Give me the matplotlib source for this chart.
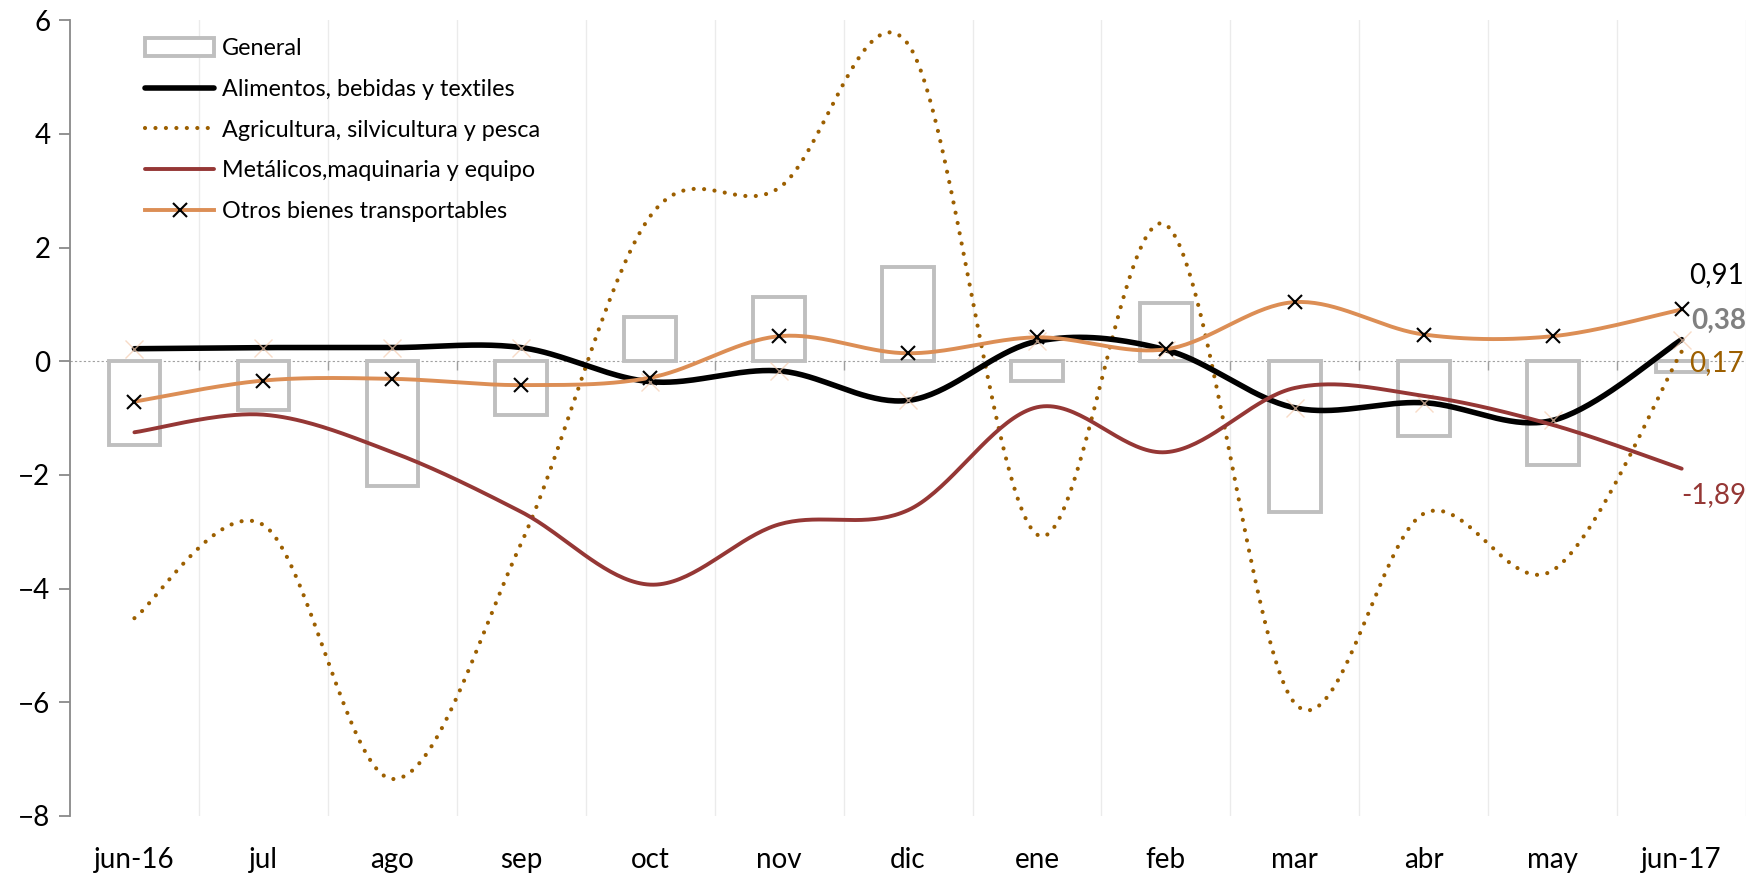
import numpy as np
import matplotlib
matplotlib.use("Agg")
import matplotlib.pyplot as plt
from matplotlib.lines import Line2D
from matplotlib.patches import Patch

plt.rcParams['font.family'] = ['Lato', 'DejaVu Sans']

# ------------------------------------------------------------------
# datos (variacion %)
# ------------------------------------------------------------------
meses = ["jun-16", "jul", "ago", "sep", "oct", "nov", "dic",
         "ene", "feb", "mar", "abr", "may", "jun-17"]
general = [-1.48, -0.85, -2.20, -0.94, 0.78, 1.13, 1.66, -0.34, 1.03, -2.66, -1.31, -1.82, -0.19]
alimentos = [0.22, 0.24, 0.24, 0.24, -0.36, -0.17, -0.69, 0.35, 0.20, -0.82, -0.73, -1.04, 0.38]
agricultura = [-4.52, -2.88, -7.35, -3.20, 2.55, 3.05, 5.58, -3.05, 2.40, -6.02, -2.68, -3.68, 0.17]
metalicos = [-1.25, -0.94, -1.60, -2.65, -3.93, -2.87, -2.62, -0.81, -1.60, -0.47, -0.61, -1.12, -1.89]
otros = [-0.71, -0.34, -0.31, -0.42, -0.29, 0.44, 0.14, 0.42, 0.21, 1.04, 0.47, 0.44, 0.91]

c_gris = "#bfbfbf"
c_agri = "#9c5f00"
c_metal = "#953735"
c_otros = "#dc8e55"


def suavizar(xs, ys, n=40):
    # curva tipo "linea suavizada" de Excel (bezier / catmull-rom)
    pts = np.column_stack([xs, ys]).astype(float)
    P = np.vstack([pts[0], pts, pts[-1]])
    out = []
    t = np.linspace(0, 1, n)[:, None]
    for i in range(1, len(P) - 2):
        p0, p1, p2, p3 = P[i - 1], P[i], P[i + 1], P[i + 2]
        c1 = p1 + (p2 - p0) / 6
        c2 = p2 - (p3 - p1) / 6
        seg = (1 - t)**3 * p1 + 3 * (1 - t)**2 * t * c1 + 3 * (1 - t) * t**2 * c2 + t**3 * p2
        out.append(seg)
    out = np.vstack(out)
    return out[:, 0], out[:, 1]


def main():
    fig = plt.figure(figsize=(17.62, 8.76), dpi=100)
    ax = fig.add_axes([0.0397, 0.0685, 0.991 - 0.0397, 0.977 - 0.0685])

    x = np.arange(len(meses))

    # rejilla vertical y linea del cero
    for b in np.arange(0.5, len(meses), 1.0):
        ax.axvline(b, color="#ebebeb", lw=1, zorder=0)
    ax.axhline(0, color="#a0a0a0", lw=0.8, ls=(0, (2, 2)), zorder=0.5)
    ax.vlines(np.arange(0.5, len(meses) - 1, 1.0), -0.16, 0, color="#a0a0a0", lw=1, zorder=0.5)

    ax.bar(x, general, width=0.4, facecolor="none", edgecolor=c_gris, lw=2.8, zorder=1)

    xs, ys = suavizar(x, agricultura)
    ax.plot(xs, ys, color=c_agri, lw=3, ls=(0, (0.01, 2.5)), dash_capstyle="round", zorder=2)

    xs, ys = suavizar(x, alimentos)
    ax.plot(xs, ys, color="black", lw=4, solid_capstyle="round", zorder=3)
    ax.plot(x, alimentos, ls="none", marker="x", ms=13, mew=1, color="#f6cdb0", alpha=0.7, zorder=3.5)

    xs, ys = suavizar(x, metalicos)
    ax.plot(xs, ys, color=c_metal, lw=2.8, solid_capstyle="round", zorder=4)

    xs, ys = suavizar(x, otros)
    ax.plot(xs, ys, color=c_otros, lw=2.8, solid_capstyle="round", zorder=5)
    ax.plot(x, otros, ls="none", marker="x", ms=10, mew=1.5, color="black", zorder=6)

    # etiquetas del ultimo dato
    n = len(meses) - 1
    kw = dict(textcoords="offset pixels", ha="center", va="center", fontsize=20,
              annotation_clip=False, zorder=7)
    ax.annotate("0,91", (n, otros[n]), xytext=(35, 34), color="black", **kw)
    ax.annotate("0,38", (n, alimentos[n]), xytext=(37, 19), color="#808080",
                fontweight="bold", **kw)
    ax.annotate("0,17", (n, agricultura[n]), xytext=(35, -11), color=c_agri, **kw)
    ax.annotate("-1,89", (n, metalicos[n]), xytext=(32, -26), color=c_metal, **kw)

    ax.set_xlim(-0.5, len(meses) - 0.5)
    ax.set_ylim(-8, 6)
    ax.set_yticks(np.arange(-8, 7, 2))
    ax.set_xticks(x)
    ax.set_xticklabels(meses)

    for s in ["top", "right", "bottom"]:
        ax.spines[s].set_visible(False)
    ax.spines["left"].set_color("#898989")
    ax.spines["left"].set_linewidth(1.3)
    ax.tick_params(axis="y", length=8, width=1.3, color="#898989", labelsize=20, pad=6)
    ax.tick_params(axis="x", length=0, labelsize=20, pad=22)

    handles = [
        Patch(facecolor="white", edgecolor=c_gris, lw=2.8),
        Line2D([], [], color="black", lw=4, solid_capstyle="round"),
        Line2D([], [], color=c_agri, lw=3, ls=(0, (0.01, 2.5)), dash_capstyle="round"),
        Line2D([], [], color=c_metal, lw=2.8, solid_capstyle="round"),
        Line2D([], [], color=c_otros, lw=2.8, marker="x", ms=10, mew=1.5,
               markeredgecolor="black"),
    ]
    labels = ["General", "Alimentos, bebidas y textiles", "Agricultura, silvicultura y pesca",
              "Metálicos,maquinaria y equipo", "Otros bienes transportables"]
    ax.legend(handles, labels, loc="upper left", bbox_to_anchor=(0.045, 0.977),
              frameon=False, fontsize=16.8, handlelength=2.95, handleheight=0.8,
              handletextpad=0.32, labelspacing=0.84, borderpad=0, borderaxespad=0,
              numpoints=1)

    fig.savefig("out.png", dpi=100)


if __name__ == "__main__":
    main()
